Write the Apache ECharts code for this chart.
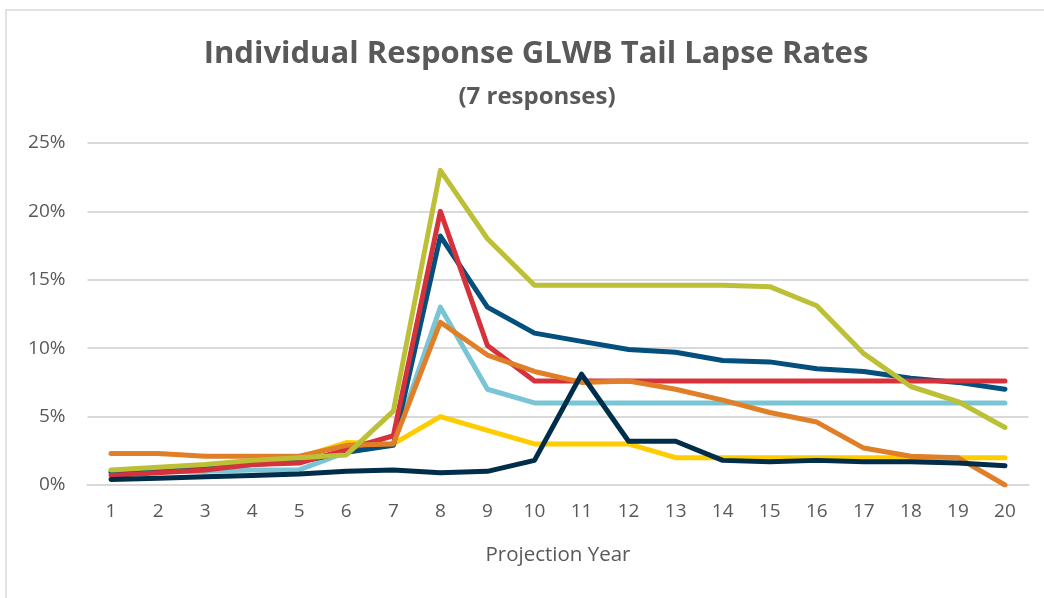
<!DOCTYPE html>
<html>
<head>
<meta charset="utf-8">
<script src="https://cdn.jsdelivr.net/npm/echarts@6/dist/echarts.min.js"></script>
<style>
  html, body { margin: 0; padding: 0; background: #fff; }
  #chart { width: 1044px; height: 598px; }
</style>
</head>
<body>
<div id="chart"></div>
<script>
// projection years 1..20
const years = ['1','2','3','4','5','6','7','8','9','10','11','12','13','14','15','16','17','18','19','20']

// tail lapse rates (%) per response
const yellow    = [1.0, 1.0, 1.0, 1.8, 2.0, 3.1, 3.0, 5.0, 4.0, 3.0, 3.0, 3.0, 2.0, 2.0, 2.0, 2.0, 2.0, 2.0, 2.0, 2.0]
const lightBlue = [1.0, 1.0, 1.0, 1.1, 1.1, 2.4, 3.0, 13.0, 7.0, 6.0, 6.0, 6.0, 6.0, 6.0, 6.0, 6.0, 6.0, 6.0, 6.0, 6.0]
const darkBlue  = [0.9, 1.1, 1.3, 1.5, 1.7, 2.4, 2.9, 18.2, 13.0, 11.1, 10.5, 9.9, 9.7, 9.1, 9.0, 8.5, 8.3, 7.8, 7.5, 7.0]
const red       = [0.7, 0.9, 1.1, 1.5, 1.6, 2.6, 3.6, 20.0, 10.2, 7.6, 7.6, 7.6, 7.6, 7.6, 7.6, 7.6, 7.6, 7.6, 7.6, 7.6]
const orange    = [2.3, 2.3, 2.1, 2.1, 2.1, 2.9, 3.0, 11.9, 9.5, 8.3, 7.5, 7.6, 7.0, 6.2, 5.3, 4.6, 2.7, 2.1, 2.0, 0.0]
const olive     = [1.1, 1.3, 1.5, 1.8, 2.0, 2.2, 5.4, 23.0, 18.0, 14.6, 14.6, 14.6, 14.6, 14.6, 14.5, 13.1, 9.6, 7.2, 6.1, 4.2]
const navy      = [0.4, 0.5, 0.6, 0.7, 0.8, 1.0, 1.1, 0.9, 1.0, 1.8, 8.1, 3.2, 3.2, 1.8, 1.7, 1.8, 1.7, 1.7, 1.6, 1.4]

const responses = [
  { name: 'Response 1', data: yellow,    color: '#FFCC00' },
  { name: 'Response 2', data: lightBlue, color: '#7AC5D5' },
  { name: 'Response 3', data: darkBlue,  color: '#034F7D' },
  { name: 'Response 4', data: red,       color: '#D5323B' },
  { name: 'Response 5', data: orange,    color: '#E07F27' },
  { name: 'Response 6', data: olive,     color: '#BCC036' },
  { name: 'Response 7', data: navy,      color: '#002D4A' }
]

const textColor = '#595959'
const fontFamily = '"Open Sans", sans-serif'

const chart = echarts.init(document.getElementById('chart'))
chart.setOption({
  animation: false,
  textStyle: { fontFamily },
  graphic: [{
    type: 'rect',
    shape: { x: 6, y: 10, width: 1200, height: 800 },
    style: { fill: 'none', stroke: '#D9D9D9', lineWidth: 1.5 },
    silent: true
  }],
  title: [{
    text: 'Individual Response GLWB Tail Lapse Rates',
    left: 531,
    top: 34,
    textAlign: 'center',
    textStyle: { color: textColor, fontSize: 31, fontWeight: 'bold', fontFamily }
  }, {
    text: '(7 responses)',
    left: 532,
    top: 80,
    textAlign: 'center',
    textStyle: { color: textColor, fontSize: 24, fontWeight: 'bold', fontFamily }
  }],
  grid: {
    left: 87.5,
    right: 15.5,
    top: 143,
    bottom: 113
  },
  xAxis: {
    type: 'category',
    data: years,
    boundaryGap: true,
    name: 'Projection Year',
    nameLocation: 'middle',
    nameGap: 60,
    nameTextStyle: { color: textColor, fontSize: 20.5, fontFamily },
    axisLine: { lineStyle: { color: '#D9D9D9', width: 2 } },
    axisTick: { show: false },
    axisLabel: { color: textColor, fontSize: 19, margin: 17, fontFamily }
  },
  yAxis: {
    type: 'value',
    min: 0,
    max: 25,
    interval: 5,
    axisLine: { show: false },
    axisTick: { show: false },
    axisLabel: { color: textColor, fontSize: 19, margin: 22, formatter: '{value}%', fontFamily },
    splitLine: { lineStyle: { color: '#D9D9D9', width: 2 } }
  },
  series: responses.map(r => ({
    name: r.name,
    type: 'line',
    data: r.data,
    showSymbol: false,
    color: r.color,
    lineStyle: { width: 5, color: r.color, cap: 'round', join: 'round' }
  }))
})
</script>
</body>
</html>
